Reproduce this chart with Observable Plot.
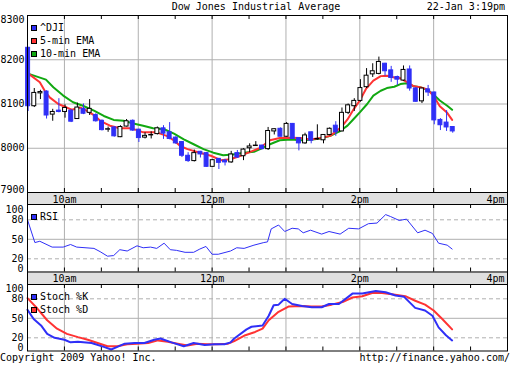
<!DOCTYPE html>
<html><head><meta charset="utf-8">
<script src="https://cdn.jsdelivr.net/npm/d3@7"></script>
<script src="https://cdn.jsdelivr.net/npm/@observablehq/plot@0.6"></script>
<style>
body{margin:0;background:#fff;}
#c{position:relative;width:512px;height:365px;overflow:hidden;font-family:"DejaVu Sans Mono",monospace;font-size:10px;color:#000;}
.t{position:absolute;white-space:pre;line-height:12px;}
.band{position:absolute;left:27px;width:481px;height:13px;background:#e0e0e0;border-left:1px solid #000;border-right:1px solid #000;box-sizing:border-box;}
.leg{position:absolute;left:31px;height:12px;display:flex;align-items:center;white-space:pre;line-height:12px;}
.sq{display:inline-block;width:4px;height:4px;border:1px solid #000;margin-right:3px;}
.p{position:absolute;left:0;}
</style></head>
<body>
<div id="c">
  <div class="band" style="top:192px"></div>
  <div class="band" style="top:271px"></div>
  <div class="t" style="left:0;width:512px;text-align:center;top:1px">Dow Jones Industrial Average</div>
  <div class="t" style="right:7px;top:1px">22-Jan 3:19pm</div>
  <div class="t" style="left:0;top:352px">Copyright 2009 Yahoo! Inc.</div>
  <div class="t" style="right:2px;top:352px">http://finance.yahoo.com/</div>
</div>
<script>
// ---- data (minutes after 9:30 am) ----
const candleTime = [0,5,10,15,20,25,30,35,40,45,50,55,60,65,70,75,80,85,90,95,100,105,110,115,120,125,130,135,140,145,150,155,160,165,170,175,180,185,190,195,200,205,210,215,220,225,230,235,240,245,250,255,260,265,270,275,280,285,290,295,300,305,310,315,320,325,330,335,340,345];
const candleOpen  = [8227,8095,8124,8128,8076,8085,8082,8085,8066,8089,8080,8075,8062,8042,8047,8025,8049,8062,8042,8024,8029,8032,8045,8036,8024,8014,7983,7971,7992,7989,7958,7976,7972,7968,7989,7982,8000,8005,8006,7998,8038,8044,8026,8055,8023,8011,8036,8020,8018,8030,8051,8038,8080,8095,8107,8138,8167,8168,8191,8176,8161,8153,8178,8135,8106,8133,8126,8064,8058,8048];
const candleHigh  = [8228,8135,8131,8130,8088,8112,8098,8087,8102,8100,8110,8078,8064,8048,8049,8051,8065,8064,8043,8035,8037,8048,8051,8058,8026,8015,7990,7996,7993,7990,7975,7977,7975,7993,7995,7999,8010,8015,8007,8047,8044,8046,8058,8056,8024,8034,8037,8053,8031,8046,8060,8091,8100,8112,8155,8180,8191,8206,8192,8185,8163,8186,8186,8137,8136,8142,8127,8067,8085,8049];
const candleLow   = [8083,8092,8110,8066,8061,8080,8068,8058,8065,8076,8074,8059,8039,8036,8025,8024,8048,8038,8013,8021,8021,8030,8020,8019,8009,7979,7968,7969,7978,7957,7957,7952,7960,7966,7977,7972,7990,8004,7996,7995,8030,8026,8025,8021,7994,8009,8010,8018,8010,8028,8027,8037,8076,8083,8104,8135,8160,8166,8163,8149,8142,8151,8129,8104,8101,8117,8053,8040,8038,8034];
const candleClose = [8095,8125,8127,8074,8082,8082,8091,8060,8092,8078,8089,8061,8041,8043,8027,8048,8061,8040,8023,8028,8030,8045,8033,8021,8011,7983,7971,7989,7986,7958,7973,7967,7968,7986,7979,7997,8004,8006,7998,8039,8043,8026,8055,8021,8011,8029,8017,8021,8030,8044,8036,8080,8097,8107,8136,8164,8174,8195,8174,8159,8155,8177,8135,8105,8135,8126,8063,8052,8047,8038];

const ema5Time  = [1,10,14,18,25,32,36,43,48,55,59,67,75,83,89,94,105,113,119,124,130,140,149,157,165,173,183,189,197,205,214,222,230,238,246,255,260,265,270,275,281,287,292,298,303,308,314,319,325,330,335,341,345];
const ema5Value = [8168,8149,8130,8115,8100,8092,8087,8092,8085,8073,8062,8051,8045,8045,8041,8036,8036,8028,8018,8005,7998,7990,7983,7973,7975,7983,7994,8001,8018,8023,8024,8023,8020,8023,8028,8048,8065,8088,8108,8134,8153,8163,8164,8160,8158,8150,8140,8138,8133,8118,8095,8080,8064];
const ema10Time  = [1,15,21,29,37,45,54,62,70,78,86,94,102,111,119,127,135,143,151,159,167,176,184,189,197,205,214,222,230,238,246,254,260,265,270,276,281,287,292,298,303,308,314,319,325,330,335,341,345];
const ema10Value = [8168,8155,8138,8119,8104,8096,8085,8073,8064,8062,8056,8051,8045,8043,8033,8020,8009,7998,7990,7984,7986,7990,7992,7998,8009,8018,8020,8018,8019,8022,8028,8039,8051,8066,8081,8100,8119,8130,8136,8139,8145,8147,8140,8138,8132,8121,8108,8096,8087];

const rsiTime  = [0,6,10,20,29,35,40,54,59,65,70,75,81,89,94,100,105,111,116,121,128,135,140,145,150,155,165,170,176,184,192,195,198,204,209,215,220,224,230,239,245,254,261,269,277,284,291,295,302,308,317,323,329,334,341,345];
const rsiValue = [80,45,47,38,38,42,38,36,31,24,25,34,32,40,37,38,36,44,34,33,30,30,35,39,27,27,32,37,36,41,45,46,66,72,62,67,66,60,64,58,62,58,67,66,74,75,88,85,79,81,60,64,59,44,41,35];

const stochKTime  = [0,5,11,16,22,30,35,41,52,62,68,73,79,87,95,103,108,117,127,135,144,152,160,165,168,178,182,191,196,200,204,209,215,223,231,239,245,253,264,272,283,291,299,306,315,323,329,334,340,345];
const stochKValue = [63,49,39,26,20,17,13,14,12,6,2,6,11,12,12,17,19,13,7,12,9,10,10,13,19,33,37,39,54,70,71,80,72,69,67,67,72,72,88,88,92,90,85,83,66,62,54,36,24,16];
const stochDTime  = [0,8,16,24,32,41,49,57,65,73,81,89,98,106,114,122,130,138,146,154,163,168,177,185,191,196,204,212,223,231,239,247,256,264,272,280,288,296,307,315,323,330,337,345];
const stochDValue = [81,65,47,34,26,21,17,12,7,7,10,11,12,16,14,11,8,11,10,10,11,15,24,29,34,47,60,68,69,68,68,71,75,82,84,89,89,87,84,77,71,62,49,33];

const timeLabelValues = [30,150,270];
const timeLabelText = ["10am","12pm","2pm"];
const lastTimeValue = [390];
const lastTimeText = ["4pm"];
const hourGrid = [30,90,150,210,270,330];
const halfHourTicks = [30,60,90,120,150,180,210,240,270,300,330,360];
const priceTicks = [8000,8100,8200];
const priceTop = [8300], priceBottom = [7900];
const oscTicks = [20,50,80];

// ---- styles ----
const BLUE = "#2f2ff7", RED = "#ff3333", GREEN = "#11a811", GRID = "#b0b0b0";
const fontStyle = {background:"transparent", fontFamily:"'DejaVu Sans Mono', monospace", fontSize:"10px", overflow:"visible", color:"#000"};
const rows = (T, V) => T.map((t,i) => ({t, v: V[i]}));
const candles = candleTime.map((t,i) => ({t: t + 0.5, open: candleOpen[i], high: candleHigh[i], low: candleLow[i], close: candleClose[i]}));
const isUp = d => d.close >= d.open;
const fmtTime = d => timeLabelText[timeLabelValues.indexOf(d)];
const fmtNum = d => String(d);
const container = document.getElementById("c");

function place(svg, top) { svg.classList.add("p"); svg.style.top = top + "px"; container.appendChild(svg); }

// ---- main price panel ----
const mainH = 204, mainMT = 15, mainMB = 12;
const mainInner = mainH - mainMT - mainMB;
const main = Plot.plot({
  width: 512, height: mainH, marginTop: mainMT, marginBottom: mainMB, marginLeft: 27, marginRight: 5,
  style: fontStyle,
  x: {domain: [0, 390]},
  y: {domain: [7900, 8300]},
  marks: [
    Plot.gridY(priceTicks, {stroke: GRID, strokeOpacity: 1}),
    Plot.gridX(hourGrid, {stroke: GRID, strokeOpacity: 1}),
    Plot.ruleX(halfHourTicks, {stroke: "#000", insetBottom: mainInner - 4}),
    Plot.ruleX(halfHourTicks, {stroke: "#000", insetTop: mainInner - 4}),
    Plot.line(rows(ema10Time, ema10Value), {x: "t", y: "v", stroke: GREEN, strokeWidth: 2}),
    Plot.line(rows(ema5Time, ema5Value), {x: "t", y: "v", stroke: RED, strokeWidth: 2}),
    Plot.ruleX(candles, {x: "t", y1: "low", y2: "high", stroke: d => isUp(d) ? "#000" : BLUE}),
    Plot.rect(candles, {x1: d => d.t - 1.6, x2: d => d.t + 1.6, y1: "open", y2: "close",
      fill: d => isUp(d) ? "#fff" : BLUE, stroke: d => isUp(d) ? "#000" : BLUE}),
    Plot.frame({stroke: "#000"}),
    Plot.axisY(priceTicks, {tickSize: 0, tickPadding: 3, tickFormat: fmtNum, label: null}),
    Plot.axisY(priceTop, {tickSize: 0, tickPadding: 3, dy: 4.5, tickFormat: fmtNum, label: null}),
    Plot.axisY(priceBottom, {tickSize: 0, tickPadding: 3, dy: -2.5, tickFormat: fmtNum, label: null}),
    Plot.axisX(timeLabelValues, {tickSize: 0, tickPadding: 3, tickFormat: fmtTime, label: null}),
    Plot.axisX(lastTimeValue, {tickSize: 0, tickPadding: 3, dx: -12, tickFormat: () => lastTimeText[0], label: null})
  ]
});
place(main, 0);

// ---- oscillator panels ----
function oscPanel({top, height, marginBottom, range, lines, showTime}) {
  const inner = height - marginBottom;
  const marks = [
    Plot.gridY([50], {stroke: GRID, strokeOpacity: 1}),
    Plot.gridY([20, 80], {stroke: GRID, strokeOpacity: 1, strokeDasharray: "4,3"}),
    Plot.gridX(hourGrid, {stroke: GRID, strokeOpacity: 1}),
    Plot.ruleX(halfHourTicks, {stroke: "#000", insetBottom: inner - 4}),
    Plot.ruleX(halfHourTicks, {stroke: "#000", insetTop: inner - 4}),
    ...lines,
    Plot.frame({stroke: "#000"}),
    Plot.axisY(oscTicks, {tickSize: 0, tickPadding: 4, tickFormat: fmtNum, label: null}),
    Plot.axisY([100], {tickSize: 0, tickPadding: 4, dy: 3, tickFormat: fmtNum, label: null}),
    Plot.axisY([0], {tickSize: 0, tickPadding: 4, dy: -2.7, tickFormat: fmtNum, label: null})
  ];
  if (showTime) {
    marks.push(Plot.axisX(timeLabelValues, {tickSize: 0, tickPadding: 3, tickFormat: fmtTime, label: null}));
    marks.push(Plot.axisX(lastTimeValue, {tickSize: 0, tickPadding: 3, dx: -12, tickFormat: () => lastTimeText[0], label: null}));
  }
  const svg = Plot.plot({
    width: 512, height, marginTop: 0, marginBottom, marginLeft: 27, marginRight: 5,
    style: fontStyle,
    x: {domain: [0, 390], axis: showTime ? undefined : null},
    y: {domain: [0, 100], range},
    marks
  });
  place(svg, top);
}

oscPanel({top: 204, height: 80, marginBottom: 12.5, range: [67.3, 2.3], showTime: true,
  lines: [Plot.line(rows(rsiTime, rsiValue), {x: "t", y: "v", stroke: BLUE, strokeWidth: 1})]});
oscPanel({top: 284, height: 67, marginBottom: 0.5, range: [66.3, 1.3], showTime: false,
  lines: [
    Plot.line(rows(stochDTime, stochDValue), {x: "t", y: "v", stroke: RED, strokeWidth: 2}),
    Plot.line(rows(stochKTime, stochKValue), {x: "t", y: "v", stroke: BLUE, strokeWidth: 2})
  ]});

// ---- legends ----
const legends = [
  {top: 22, label: "^DJI", color: BLUE},
  {top: 35, label: "5-min EMA", color: RED},
  {top: 48, label: "10-min EMA", color: GREEN},
  {top: 211, label: "RSI", color: BLUE},
  {top: 291, label: "Stoch %K", color: BLUE},
  {top: 303.5, label: "Stoch %D", color: RED}
];
for (const l of legends) {
  const div = document.createElement("div");
  div.className = "leg";
  div.style.top = l.top + "px";
  const sq = document.createElement("span");
  sq.className = "sq"; sq.style.background = l.color;
  div.appendChild(sq);
  div.appendChild(document.createTextNode(l.label));
  container.appendChild(div);
}
</script>
</body></html>
